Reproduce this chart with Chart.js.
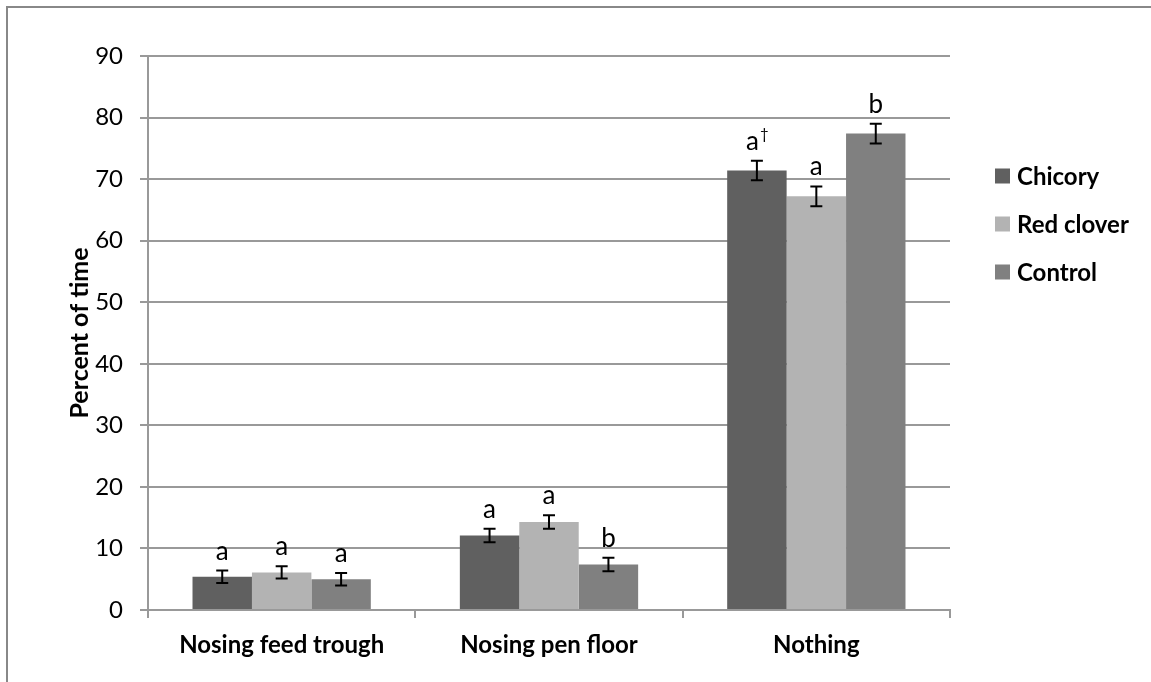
<!DOCTYPE html>
<html>
<head>
<meta charset="utf-8">
<script src="https://cdn.jsdelivr.net/npm/chart.js@4.4.1/dist/chart.umd.min.js"></script>
<style>
  html, body { margin: 0; padding: 0; background: #fff; overflow: hidden; }
  #wrap { position: relative; width: 1151px; height: 682px; }
  #frame { position: absolute; left: 6px; top: 6px; width: 1200px; height: 720px; border: 2px solid #888; box-sizing: border-box; }
  #c { position: absolute; left: 0; top: 0; }
</style>
</head>
<body>
<div id="wrap">
  <div id="frame"></div>
  <canvas id="c" width="1151" height="682"></canvas>
</div>
<script>
// Behaviour categories and treatment series (percent of time, mean ± SE)
const categories = ['Nosing feed trough', 'Nosing pen floor', 'Nothing'];
const seriesNames = ['Chicory', 'Red clover', 'Control'];
const chicory   = [5.4, 12.1, 71.4];
const redClover = [6.1, 14.3, 67.2];
const control   = [5.0, 7.4, 77.4];
const chicoryErr   = [1.0, 1.1, 1.6];
const redCloverErr = [1.0, 1.1, 1.6];
const controlErr   = [1.0, 1.1, 1.6];
// Significance letters above each bar
const chicoryLetters   = ['a', 'a', 'a†'];
const redCloverLetters = ['a', 'a', 'a'];
const controlLetters   = ['a', 'b', 'b'];
const yTicks = [0, 10, 20, 30, 40, 50, 60, 70, 80, 90];

const colors = ['#606060', '#b3b3b3', '#808080'];
const values = [chicory, redClover, control];
const errors = [chicoryErr, redCloverErr, controlErr];
const letters = [chicoryLetters, redCloverLetters, controlLetters];

const FONT = 'Lato';

// Error bars and letter annotations
const annotate = {
  id: 'annotate',
  afterDatasetsDraw(chart) {
    const ctx = chart.ctx;
    const y = chart.scales.y;
    ctx.save();
    chart.data.datasets.forEach((ds, di) => {
      const meta = chart.getDatasetMeta(di);
      meta.data.forEach((bar, i) => {
        const v = ds.data[i];
        const e = errors[di][i];
        const top = y.getPixelForValue(v + e);
        const bot = y.getPixelForValue(v - e);
        const cx = bar.x;
        ctx.strokeStyle = '#000';
        ctx.lineWidth = 2;
        ctx.beginPath();
        ctx.moveTo(cx, top); ctx.lineTo(cx, bot);
        ctx.moveTo(cx - 6, top); ctx.lineTo(cx + 6, top);
        ctx.moveTo(cx - 6, bot); ctx.lineTo(cx + 6, bot);
        ctx.stroke();

        const txt = letters[di][i];
        const base = top - 11;
        ctx.fillStyle = '#000';
        ctx.textBaseline = 'alphabetic';
        if (txt.includes('†')) {
          const main = txt.replace('†', '');
          ctx.font = `26px ${FONT}`;
          const wm = ctx.measureText(main).width;
          ctx.font = `15px ${FONT}`;
          const wd = ctx.measureText('†').width;
          const x0 = cx - (wm + wd) / 2;
          ctx.textAlign = 'left';
          ctx.font = `26px ${FONT}`;
          ctx.fillText(main, x0, base);
          ctx.font = `15px ${FONT}`;
          ctx.fillText('†', x0 + wm + 1, base - 11);
        } else {
          ctx.font = `26px ${FONT}`;
          ctx.textAlign = 'center';
          ctx.fillText(txt, cx, base);
        }
      });
    });
    ctx.restore();
  }
};

// Legend drawn to the right of the plot
const sideLegend = {
  id: 'sideLegend',
  afterDraw(chart) {
    const ctx = chart.ctx;
    ctx.save();
    chart.data.datasets.forEach((ds, i) => {
      const cy = 176 + i * 48;
      ctx.fillStyle = ds.backgroundColor;
      ctx.fillRect(995, cy - 7.5, 15, 15);
      ctx.fillStyle = '#000';
      ctx.font = `bold 24px ${FONT}`;
      ctx.textAlign = 'left';
      ctx.textBaseline = 'middle';
      ctx.fillText(ds.label, 1017, cy + 1);
    });
    ctx.restore();
  }
};

new Chart(document.getElementById('c'), {
  type: 'bar',
  data: {
    labels: categories,
    datasets: seriesNames.map((name, i) => ({
      label: name,
      data: values[i],
      backgroundColor: colors[i],
      borderWidth: 0,
      categoryPercentage: 0.667,
      barPercentage: 1.0
    }))
  },
  options: {
    responsive: false,
    animation: false,
    devicePixelRatio: 1,
    layout: { padding: { top: 56, right: 201, bottom: 0, left: 0 } },
    plugins: { legend: { display: false }, tooltip: { enabled: false } },
    scales: {
      x: {
        grid: { offset: true, drawOnChartArea: false, drawTicks: true, tickLength: 8, color: '#999', lineWidth: 2 },
        border: { display: true, color: '#999', width: 2 },
        ticks: { color: '#000', font: { family: FONT, size: 24, weight: 'bold' }, padding: 13, maxRotation: 0 },
        afterFit(scale) { scale.height = 72; }
      },
      y: {
        min: 0,
        max: 90,
        afterBuildTicks(scale) { scale.ticks = yTicks.map(v => ({ value: v })); },
        grid: { color: '#999', lineWidth: 2, tickLength: 8 },
        border: { display: true, color: '#999', width: 2 },
        ticks: { color: '#000', font: { family: FONT, size: 24 }, padding: 17 },
        title: { display: true, text: 'Percent of time', color: '#000', font: { family: FONT, size: 25, weight: 'bold' }, padding: { top: 65, bottom: 0 } },
        afterFit(scale) { scale.width = 148; }
      }
    }
  },
  plugins: [annotate, sideLegend]
});
</script>
</body>
</html>
